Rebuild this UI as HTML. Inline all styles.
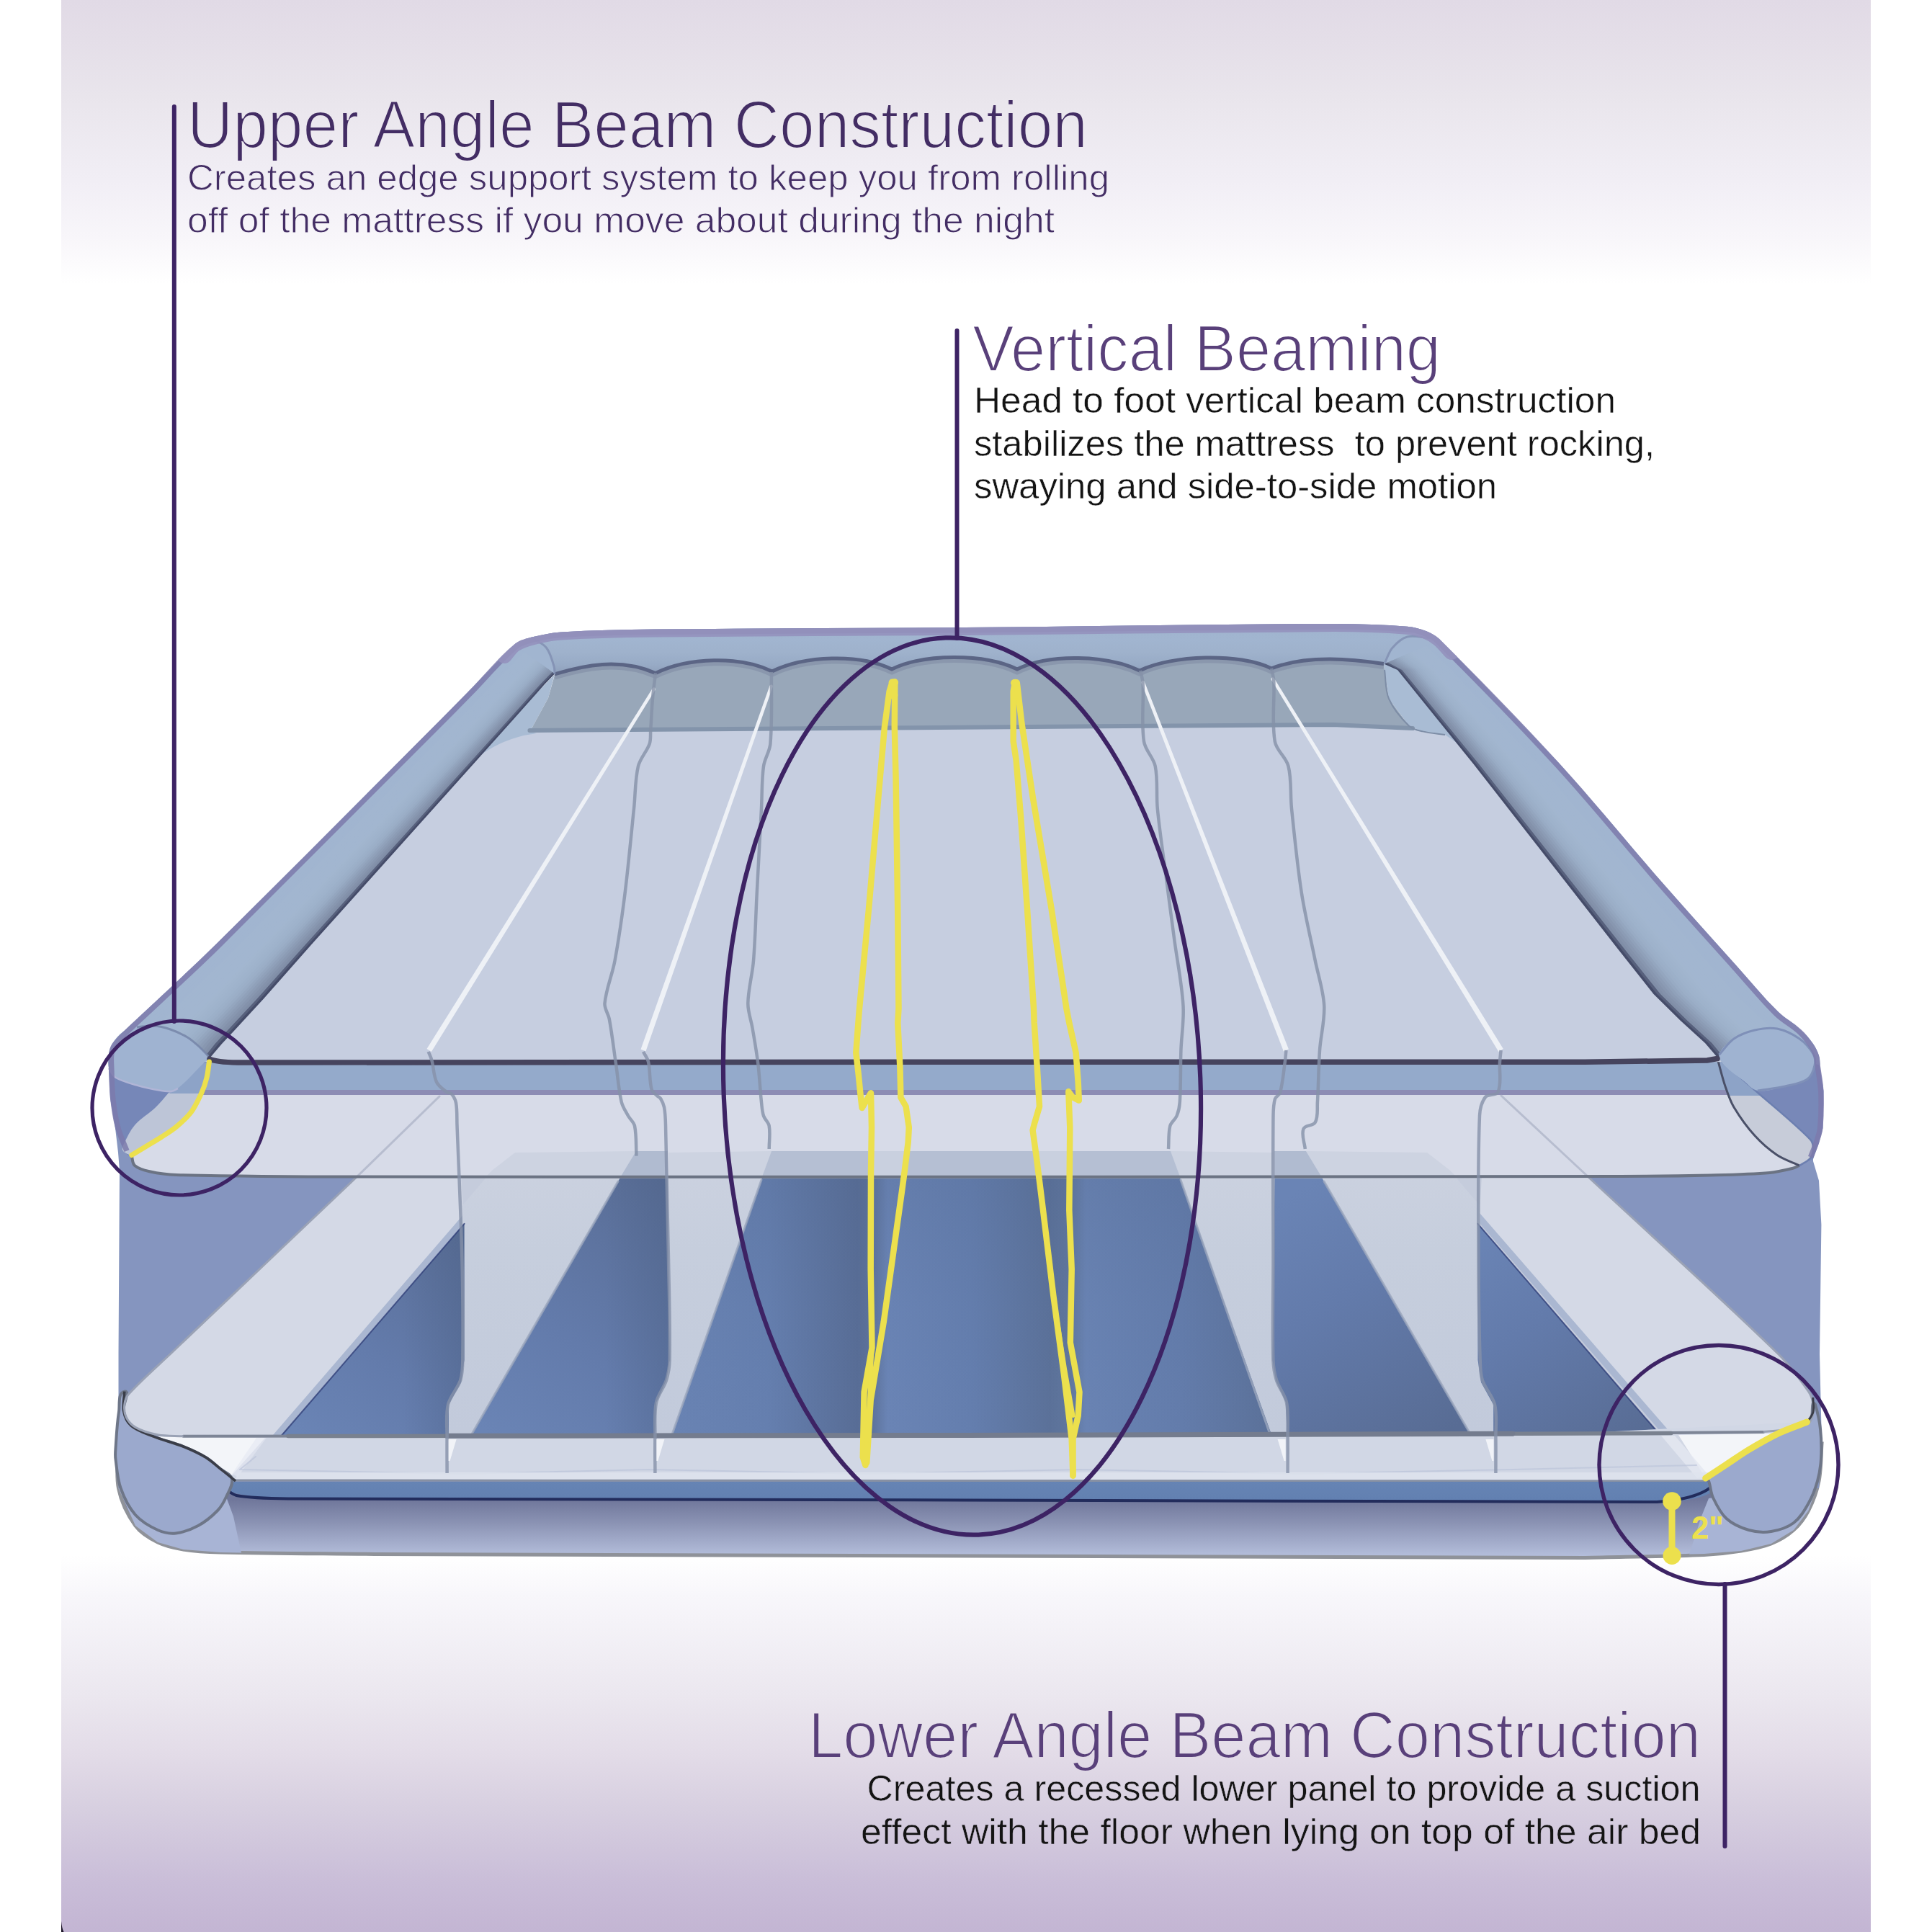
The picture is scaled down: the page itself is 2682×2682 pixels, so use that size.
<!DOCTYPE html>
<html lang="en"><head><meta charset="utf-8"><title>Air bed construction</title>
<style>
html,body{margin:0;padding:0;background:#fff;}
body{width:2682px;height:2682px;overflow:hidden;font-family:"Liberation Sans",sans-serif;}
svg{display:block;}
text{font-family:"Liberation Sans",sans-serif;}
</style></head><body>
<svg width="2682" height="2682" viewBox="0 0 2682 2682">
<defs>
<linearGradient id="bg" gradientUnits="userSpaceOnUse" x1="0" y1="0" x2="0" y2="2682"><stop offset="0" stop-color="#e1dae6"/><stop offset="0.02" stop-color="#e4dee8"/><stop offset="0.05" stop-color="#e9e5ec"/><stop offset="0.093" stop-color="#f1eef5"/><stop offset="0.123" stop-color="#f8f6fa"/><stop offset="0.147" stop-color="#ffffff"/><stop offset="0.805" stop-color="#ffffff"/><stop offset="0.825" stop-color="#f8f7fb"/><stop offset="0.878" stop-color="#ebe7ef"/><stop offset="0.907" stop-color="#e3dce8"/><stop offset="0.936" stop-color="#d7cfe0"/><stop offset="0.975" stop-color="#c9bdd8"/><stop offset="1" stop-color="#c3b5d3"/></linearGradient>
<linearGradient id="gsh" gradientUnits="userSpaceOnUse" x1="0" y1="2082" x2="0" y2="2160"><stop offset="0" stop-color="#70779b"/><stop offset="0.4" stop-color="#8a92b3"/><stop offset="1" stop-color="#b4bedb"/></linearGradient>
<linearGradient id="gface" gradientUnits="userSpaceOnUse" x1="0" y1="1598" x2="0" y2="1994"><stop offset="0" stop-color="#ccd2e0"/><stop offset="0.35" stop-color="#c6cedd"/><stop offset="1" stop-color="#c2cadb"/></linearGradient>
<linearGradient id="c1" gradientUnits="userSpaceOnUse" x1="420" y1="1994" x2="660" y2="1700"><stop offset="0" stop-color="#6a84b5"/><stop offset="0.4" stop-color="#637bab"/><stop offset="1" stop-color="#586c94"/></linearGradient>
<linearGradient id="c1b" gradientUnits="userSpaceOnUse" x1="560" y1="0" x2="646" y2="0"><stop offset="0" stop-color="#4d6288" stop-opacity="0"/><stop offset="1" stop-color="#4d6288" stop-opacity="0.42"/></linearGradient>
<linearGradient id="c2" gradientUnits="userSpaceOnUse" x1="680" y1="1994" x2="940" y2="1640"><stop offset="0" stop-color="#6a84b5"/><stop offset="0.4" stop-color="#637bab"/><stop offset="1" stop-color="#586c94"/></linearGradient>
<linearGradient id="c2b" gradientUnits="userSpaceOnUse" x1="840" y1="0" x2="931" y2="0"><stop offset="0" stop-color="#4d6288" stop-opacity="0"/><stop offset="1" stop-color="#4d6288" stop-opacity="0.42"/></linearGradient>
<linearGradient id="c4" gradientUnits="userSpaceOnUse" x1="1790" y1="1660" x2="2000" y2="1994"><stop offset="0" stop-color="#6a84b5"/><stop offset="0.4" stop-color="#637bab"/><stop offset="1" stop-color="#586c94"/></linearGradient>
<linearGradient id="c5" gradientUnits="userSpaceOnUse" x1="2075" y1="1700" x2="2280" y2="1994"><stop offset="0" stop-color="#6a84b5"/><stop offset="0.4" stop-color="#637bab"/><stop offset="1" stop-color="#586c94"/></linearGradient>
<linearGradient id="c3" gradientUnits="userSpaceOnUse" x1="932" y1="0" x2="1766" y2="0"><stop offset="0" stop-color="#6983b3"/><stop offset="0.16" stop-color="#657faf"/><stop offset="0.31" stop-color="#586d96"/><stop offset="0.335" stop-color="#5d739c"/><stop offset="0.36" stop-color="#6a84b5"/><stop offset="0.5" stop-color="#647eae"/><stop offset="0.63" stop-color="#5b7199"/><stop offset="0.665" stop-color="#60779e"/><stop offset="0.69" stop-color="#6983b3"/><stop offset="0.85" stop-color="#637cab"/><stop offset="1" stop-color="#5b7199"/></linearGradient>
<linearGradient id="c3v" gradientUnits="userSpaceOnUse" x1="0" y1="1638" x2="0" y2="1994"><stop offset="0" stop-color="#4d6288" stop-opacity="0.18"/><stop offset="0.5" stop-color="#4d6288" stop-opacity="0.04"/><stop offset="1" stop-color="#4d6288" stop-opacity="0"/></linearGradient>
<linearGradient id="gbs" gradientUnits="userSpaceOnUse" x1="0" y1="2056" x2="0" y2="2084"><stop offset="0" stop-color="#6684b4"/><stop offset="1" stop-color="#6280b1"/></linearGradient>
<linearGradient id="grail" gradientUnits="userSpaceOnUse" x1="0" y1="866" x2="0" y2="936"><stop offset="0" stop-color="#a0b3ce"/><stop offset="0.3" stop-color="#a1b5d0"/><stop offset="0.55" stop-color="#9fb2cc"/><stop offset="0.8" stop-color="#98abc6"/><stop offset="1" stop-color="#8e9fba"/></linearGradient>
<clipPath id="padclip"><path d="M172.5,1599 C168.3,1588 163,1577.4 160,1566 C156.5,1552.6 154.5,1538.8 153,1525 C151.5,1511.1 151.5,1497 151,1483 C150.8,1476.3 150.1,1469.6 151,1463 C151.7,1458.1 153,1453.1 155.7,1449 C159.9,1442.6 165.7,1437.3 171.2,1432 C187,1416.7 203.4,1402.1 219.4,1387 C246.3,1361.6 273.7,1336.6 300,1310.6 C404.1,1207.6 507.2,1103.6 610.6,1000 C623.8,986.8 636.9,973.4 650,960 C671.6,938 691.1,913.8 714.7,894 C721.8,888.1 731.6,886.3 740.6,884 C753.2,880.8 766,878.3 779,877.5 C822.3,874.8 865.7,874.1 909,873.6 C1052.7,871.9 1196.3,872.2 1340,871 C1510,869.6 1680,866.3 1850,866 C1884.5,865.9 1919.1,867.1 1953.5,869.8 C1962.4,870.5 1971.1,872.8 1979.4,876 C1985.9,878.5 1992.5,881.7 1997.5,886.6 C2054.6,943.2 2110.7,1000.7 2165,1060 C2213.9,1113.4 2259.3,1170 2307,1224.5 C2341.1,1263.5 2375.9,1301.8 2410.5,1340.4 C2429.8,1361.9 2448,1384.3 2468.5,1404.6 C2477.9,1413.9 2490.2,1420 2500,1429 C2506.5,1434.9 2512,1441.8 2517,1449 C2520.4,1453.9 2523.2,1459.3 2525,1465 C2526.5,1469.8 2526.3,1475 2527,1480 C2528.5,1491.5 2531,1502.9 2531.5,1514.5 C2532.2,1531.7 2532,1548.9 2530.5,1566 C2529.9,1573.2 2527.2,1580.1 2525,1587 C2522.7,1594 2519.7,1600.8 2517,1607.7 L2400,1607 L2300,1530 L1900,945 L790,950 L380,1530 L300,1600 Z"/></clipPath>
</defs>
<rect x="0" y="0" width="2682" height="2682" fill="#ffffff"/>
<rect x="85" y="0" width="2512" height="2682" fill="url(#bg)"/>
<path d="M85,2682 L85,2667 Q86,2677 88.5,2682 Z" fill="#1a1426"/>
<path d="M164.5,2000 C164.5,2022 160.2,2044.4 164.5,2066 C168.2,2084.7 176.8,2102.6 188,2118 C195.6,2128.4 207.5,2135.3 219,2141 C230,2146.5 242.4,2149 254.5,2151 C271.5,2153.7 288.8,2154.6 306,2155 C377.3,2156.7 448.7,2156.6 520,2157.4 L2200,2162.5 C2255.2,2161.1 2310.4,2160.8 2365.6,2158.4 C2382.8,2157.6 2400,2155.8 2417,2153 C2431.1,2150.7 2445.4,2148.3 2458.7,2143 C2470,2138.5 2480.9,2132.1 2490,2124 C2498.4,2116.5 2505.3,2107 2510.5,2097 C2517.1,2084.1 2522.2,2070.2 2525,2056 C2528.4,2038.9 2527.7,2021.3 2529,2004 Z" fill="url(#gsh)" stroke="#8f9299" stroke-width="5"/>
<polygon points="164.5,2066 188,2118 219,2141 254.5,2151 306,2155 335,2155.5 324,2105 314,2078" fill="#a8b4d5"/>
<polygon points="2525,2056 2510.5,2097 2490,2124 2458.7,2143 2417,2153 2365.6,2157 2345,2157.5 2362,2105 2372,2080" fill="#a8b4d5"/>
<polygon points="160,1566 164,1600 166,1625 164.5,1880 164.5,2066 2525,2066 2529,2004 2526,1880 2528.4,1700 2525,1639 2517,1612 2517,1600 2490,1600" fill="#8595bf"/>
<polygon points="610,1522 495.5,1633.5 236,1880 178,1936 172.8,1950 175,1967 188,1981.4 219,1991.8 254.5,1993.8 2200,1989 2448,1987.6 2479,1984.5 2508.4,1977 2515.7,1967 2516.7,1948 2510.5,1931.7 2469,1880 2204,1633 2084,1521" fill="#c5ccdc"/>
<polygon points="610,1522 495.5,1633.5 236,1880 178,1936 172.8,1950 175,1967 188,1981.4 219,1991.8 254.5,1993.8 377.4,1994 643,1686.4 640,1633.6 632,1531 626,1524" fill="#d4d9e6"/>
<polygon points="2084,1521 2204,1633 2469,1880 2510.5,1931.7 2516.7,1948 2515.7,1967 2508.4,1977 2479,1984.5 2448,1987.6 2320,1990 2054,1684 2057,1633 2064,1531 2070,1524" fill="#d4d9e6"/>
<polygon points="643,1686.4 377.4,1994 389.8,1994 644.5,1698.8" fill="#aab7d1"/>
<polygon points="2054,1684 2320,1990 2307.5,1990 2052.5,1696.5" fill="#aab7d1"/>
<polygon points="641.4,1674 684,1624 715,1600 883,1598 650,1994 620.6,1997 620.6,1950 639.2,1916 642.3,1888" fill="url(#gface)"/>
<polygon points="928,1600 1071,1598 932,1994 909.4,1994 909.4,1947 925,1916 929.6,1888" fill="url(#gface)"/>
<polygon points="2054.6,1674 2012,1624 1981,1600 1813,1598 2046,1994 2075.4,1997 2075.4,1950 2056.8,1916 2053.7,1888" fill="url(#gface)"/>
<polygon points="1768,1600 1625,1598 1764,1994 1786.6,1994 1786.6,1947 1771,1916 1766.4,1888" fill="url(#gface)"/>
<polygon points="644.5,1698.8 644.5,1888 640,1919 622.8,1950 622.8,1994 389.8,1994" fill="url(#c1)"/>
<polygon points="644.5,1698.8 644.5,1888 640,1919 622.8,1950 622.8,1994 389.8,1994" fill="url(#c1b)"/>
<polygon points="861.5,1634 926.5,1634 929.6,1888 925,1916 911,1947 909.4,1994 653,1994" fill="url(#c2)"/>
<polygon points="861.5,1634 926.5,1634 929.6,1888 925,1916 911,1947 909.4,1994 653,1994" fill="url(#c2b)"/>
<polygon points="1834.5,1634 1769.5,1634 1766.4,1888 1771,1916 1785,1947 1786.6,1994 2043,1994" fill="url(#c4)"/>
<polygon points="2051.5,1698.8 2051.5,1888 2056,1919 2073.2,1950 2073.2,1994 2306.2,1994" fill="url(#c5)"/>
<polygon points="1058.5,1634 1637.5,1634 1766,1994 932,1994" fill="url(#c3)"/>
<polygon points="1058.5,1634 1637.5,1634 1766,1994 932,1994" fill="url(#c3v)"/>
<polyline points="644.5,1698.8 389.8,1994" fill="none" stroke="#2f3f78" stroke-width="2" opacity="0.8" stroke-linejoin="round" stroke-linecap="round"/>
<polyline points="2051.5,1698.8 2306.2,1994" fill="none" stroke="#2f3f78" stroke-width="2" opacity="0.8" stroke-linejoin="round" stroke-linecap="round"/>
<polyline points="858,1640 653,1994" fill="none" stroke="#9ba6bd" stroke-width="3" opacity="0.8" stroke-linejoin="round" stroke-linecap="round"/>
<polyline points="1838,1640 2043,1994" fill="none" stroke="#9ba6bd" stroke-width="3" opacity="0.8" stroke-linejoin="round" stroke-linecap="round"/>
<polyline points="1057,1638 932,1994" fill="none" stroke="#9ba6bd" stroke-width="3" opacity="0.8" stroke-linejoin="round" stroke-linecap="round"/>
<polyline points="1639,1638 1764,1994" fill="none" stroke="#9ba6bd" stroke-width="3" opacity="0.8" stroke-linejoin="round" stroke-linecap="round"/>
<path d="M213,1994 C226.8,1998.7 240.9,2002.6 254.5,2008 C265.2,2012.3 275.7,2017.1 285.6,2023 C293,2027.5 299.2,2033.6 306,2039 C313,2044.6 320,2050.3 327,2056 L2367.7,2056 L2367.7,2052 C2377.3,2045.7 2387,2039.3 2396.6,2033 C2407,2026.2 2417,2018.9 2427.7,2012.5 C2441.2,2004.4 2454.8,1996.5 2469,1989.7 C2481.8,1983.6 2495.3,1979.2 2508.4,1974 L2200,1989 L254.5,1993.8 Z" fill="#d1d7e5"/>
<path d="M213,1994 C226.8,1998.7 240.9,2002.6 254.5,2008 C265.2,2012.3 275.7,2017.1 285.6,2023 C293,2027.5 299.2,2033.7 306,2039 L320,2050 L368,1996 Z" fill="#f3f5f9"/>
<path d="M2330,1992 L2469,1989.7 L2508.4,1974 C2495.3,1979.2 2481.8,1983.6 2469,1989.7 C2454.8,1996.5 2441.2,2004.4 2427.7,2012.5 C2417,2018.9 2407,2026.2 2396.6,2033 C2387,2039.3 2377.3,2045.7 2367.7,2052 Z" fill="#f3f5f9"/>
<polygon points="2306,1993 2325,1993 2372,2048 2356,2052" fill="#e4e8f1" opacity="0.85"/>
<polygon points="356,1996 370,1996 330,2050 322,2046" fill="#e4e8f1" opacity="0.6"/>
<polyline points="355,2022 333,2040 640,2046 900,2040 1200,2046 1500,2040 1800,2046 2100,2040 2355,2034" fill="none" stroke="#bcc4da" stroke-width="2" opacity="0.7" stroke-linejoin="round" stroke-linecap="round"/>
<polyline points="254.5,1993.8 1340,1992.5 2200,1990 2448,1988" fill="none" stroke="#7d8596" stroke-width="4" stroke-linejoin="round" stroke-linecap="round"/>
<polyline points="400,1993.6 1340,1992.5 2200,1990 2320,1989.5" fill="none" stroke="#79818f" stroke-width="5.5" stroke-linejoin="round" stroke-linecap="round"/>
<polyline points="620,1993.3 1340,1992.5 2100,1990.3" fill="none" stroke="#747c8e" stroke-width="7" stroke-linejoin="round" stroke-linecap="round"/>
<polygon points="330,2044 2375,2044 2367,2054 327,2054" fill="#dfe4ee" opacity="0.8"/>
<polyline points="327,2055 2367,2056" fill="none" stroke="#8790a3" stroke-width="3" stroke-linejoin="round" stroke-linecap="round"/>
<path d="M318,2057 L2370,2057 Q2388,2052 2386,2062 Q2378,2078 2330,2084 L2200,2085 L400,2080 Q330,2078 314,2068 Q310,2062 318,2057 Z" fill="url(#gbs)"/>
<path d="M313,2052 Q308,2068 328,2076 Q350,2080 400,2080.5 L1340,2082.5 L2300,2085 Q2370,2080 2384,2054" fill="none" stroke="#222c5c" stroke-width="4"/>
<path d="M172.8,1931.7 C181.6,1930 170,1949.9 171.7,1958.7 C173.1,1966.1 176.2,1974.1 182,1979 C190.7,1986.5 202.3,1989.7 213,1994 C226.6,1999.4 240.9,2002.6 254.5,2008 C265.2,2012.3 275.7,2017.1 285.6,2023 C293,2027.5 299.3,2033.5 306,2039 C311.5,2043.5 320.6,2046.1 322,2053 C323.8,2061.6 317.6,2070 314,2078 C310.9,2084.8 307.2,2091.6 302,2097 C294,2105.2 285,2112.6 275,2118 C265.4,2123.2 254.8,2127.2 244,2128.4 C235.6,2129.3 226.7,2127.5 219,2124 C207.6,2118.8 196.3,2112.3 188,2103 C178.7,2092.5 172.3,2079.3 167.6,2066 C163,2052.9 162.2,2038.8 160.4,2025 C159.8,2020.7 160.1,2016.3 160.4,2012 C161.6,1994.6 162.3,1977.2 165,1960 C166.5,1950.3 163.2,1933.6 172.8,1931.7Z" fill="#9ba9cd" stroke="#6e7688" stroke-width="4"/>
<path d="M2516.7,1948 C2517.1,1946.8 2519.6,1948.8 2520,1950 C2523.2,1961 2525.8,1972.2 2527,1983.5 C2528.5,1997.3 2528.8,2011.2 2528,2025 C2527.4,2035.5 2525.8,2045.9 2523,2056 C2520,2066.7 2516,2077.3 2510.5,2087 C2504.9,2096.8 2499,2107.2 2490,2114 C2481.1,2120.7 2469.7,2124.2 2458.7,2126 C2448.5,2127.6 2437.6,2126.9 2427.7,2124 C2416.5,2120.8 2405.2,2115.8 2396.6,2108 C2388.1,2100.3 2382.9,2089.4 2378,2079 C2374.6,2071.8 2374.8,2063.4 2372,2056 C2371.3,2054.1 2366.2,2053.2 2367.7,2051.8 C2376.1,2044 2387,2039.3 2396.6,2033 C2407,2026.2 2417,2018.9 2427.7,2012.5 C2441.2,2004.4 2454.8,1996.5 2469,1989.7 C2481.8,1983.6 2495.8,1980.5 2508.4,1974 C2511.5,1972.4 2513.9,1969.3 2515,1966 C2516.8,1960.3 2514.9,1953.8 2516.7,1948Z" fill="#9ba9cd" stroke="#6e7688" stroke-width="4"/>
<path d="M172.8,1931.7 C172.4,1940.7 170,1949.9 171.7,1958.7 C173.1,1966.1 176.2,1974.1 182,1979 C190.7,1986.5 202.3,1989.7 213,1994 C226.6,1999.4 240.9,2002.6 254.5,2008 C265.2,2012.3 275.7,2017.1 285.6,2023 C293,2027.5 299.2,2033.6 306,2039 C313,2044.6 320,2050.3 327,2056" fill="none" stroke="#3a3d48" stroke-width="3.5"/>
<path d="M495.5,1633.5 C409,1715.7 322.4,1797.7 236,1880 C216.5,1898.5 196,1916.1 178,1936 C174.7,1939.7 173.3,1945 172.8,1950 C172.2,1955.7 172.5,1961.9 175,1967 C177.8,1972.8 182.4,1978.2 188,1981.4 C197.5,1986.8 208.3,1989.8 219,1991.8 C230.7,1994 242.7,1993.1 254.5,1993.8" fill="none" stroke="#9aa2b5" stroke-width="3"/>
<path d="M2448,1987.6 C2458.3,1986.6 2468.8,1986.3 2479,1984.5 C2489,1982.8 2499.3,1981.4 2508.4,1977 C2512.1,1975.2 2514.6,1971 2515.7,1967 C2517.4,1960.9 2517.6,1954.3 2516.7,1948 C2515.9,1942.2 2513.8,1936.5 2510.5,1931.7 C2497.8,1913.6 2484.8,1895.4 2469,1880 C2382.5,1795.7 2292.3,1715.3 2204,1633" fill="none" stroke="#9aa2b5" stroke-width="3"/>
<path d="M2516.7,1940 C2516.8,1946.7 2518.5,1953.5 2517,1960 C2515.7,1965.6 2511.3,1970 2508.4,1975" fill="none" stroke="#3a3d48" stroke-width="3"/>
<path d="M290.4,1474 C289.3,1481.3 288.8,1488.8 287,1496 C285.3,1503 283,1510 280,1516.6 C275.8,1525.9 271.6,1535.3 265.6,1543.5 C259.8,1551.3 252.4,1557.8 245,1564 C238.5,1569.5 231.1,1573.9 224,1578.5 C217.3,1582.9 210.3,1586.8 203.5,1591 C196.6,1595.2 189.7,1599.3 182.8,1603.5 L182.8,1604.6 C184.2,1609.1 183.5,1614.9 187,1618 C192.6,1622.9 200.4,1624.7 207.6,1626.3 C219.9,1629 232.4,1630.7 245,1631 C330,1633.1 415,1633.5 500,1633.6 C1083.3,1634.2 1666.7,1633.7 2250,1633 C2291.3,1633 2332.7,1632.5 2374,1631.5 C2401.7,1630.8 2429.4,1630.3 2457,1628 C2467.5,1627.1 2477.8,1624.5 2488,1622 C2491.5,1621.1 2494.7,1619.3 2498,1618 L2498,1618 C2487.7,1613.2 2476.5,1609.8 2467,1603.5 C2455.6,1595.9 2445.2,1586.8 2436,1576.6 C2425,1564.5 2415.4,1551 2407,1537 C2401.6,1528 2398.4,1517.9 2395,1508 C2390.9,1495.9 2388,1483.3 2384.5,1471 Z" fill="#d7dbe8"/>
<polygon points="290.4,1474 287,1496 280,1519 2400,1519 2395,1508 2384.5,1471 2200,1474" fill="#94aacb"/>
<polyline points="281,1516.5 2399,1516.5" fill="none" stroke="#8c8cb4" stroke-width="7.2" stroke-linecap="butt" stroke-linejoin="round"/>
<polygon points="715,1600 883,1598 860,1636 672,1636 684,1624" fill="#cdd3e1"/>
<polygon points="1981,1600 1813,1598 1836,1636 2024,1636 2012,1624" fill="#cdd3e1"/>
<polygon points="928,1600 1071,1598 1057,1636 928,1636" fill="#cdd3e1"/>
<polygon points="1768,1600 1625,1598 1639,1636 1768,1636" fill="#cdd3e1"/>
<polygon points="883,1598 927,1598 927,1636 860,1636" fill="#b0bbd0"/>
<polygon points="1813,1598 1769,1598 1769,1636 1836,1636" fill="#b0bbd0"/>
<polygon points="1071,1598 1625,1598 1639,1636 1057,1636" fill="#b5bfd3"/>
<polygon points="1205,1598 1262,1598 1256,1636 1207,1636" fill="#c9d0df"/>
<polygon points="1441,1598 1487,1598 1487,1636 1443,1636" fill="#c9d0df"/>
<polyline points="610,1522 495.5,1633.5" fill="none" stroke="#a9b1c4" stroke-width="3" opacity="0.7" stroke-linejoin="round" stroke-linecap="round"/>
<polyline points="2084,1521 2204,1633" fill="none" stroke="#a9b1c4" stroke-width="3" opacity="0.7" stroke-linejoin="round" stroke-linecap="round"/>
<path d="M182.8,1604.6 C184.2,1609.1 183.5,1614.9 187,1618 C192.6,1622.9 200.4,1624.7 207.6,1626.3 C219.9,1629 232.4,1630.7 245,1631 C330,1633.1 415,1633.5 500,1633.6 C1083.3,1634.2 1666.7,1633.7 2250,1633 C2291.3,1633 2332.7,1632.5 2374,1631.5 C2401.7,1630.8 2429.4,1630.3 2457,1628 C2467.5,1627.1 2477.8,1624.5 2488,1622 C2491.5,1621.1 2494.7,1619.3 2498,1618" fill="none" stroke="#6b7383" stroke-width="4"/>
<path d="M290.4,1474 C289.3,1481.3 288.8,1488.8 287,1496 C285.3,1503 283,1510 280,1516.6 C275.8,1525.9 271.6,1535.3 265.6,1543.5 C259.8,1551.3 252.4,1557.8 245,1564 C238.5,1569.5 231.1,1573.9 224,1578.5 C217.3,1582.9 210.3,1586.8 203.5,1591 C196.6,1595.2 189.7,1599.3 182.8,1603.5 L177.6,1603.5 L172.5,1599 L160,1566 L153,1525 L151,1483 L151,1470 L291,1469 Z" fill="#7687b8"/>
<path d="M234.5,1516.6 C228.3,1523.5 222.7,1530.9 216,1537.3 C206.8,1546.1 195.4,1552.4 187,1562 C180.7,1569.2 176.6,1578.3 172.5,1587 C171,1590.1 168.7,1594.1 170.4,1597 C172.8,1601.2 178.7,1602.1 182.8,1604.6 L182.8,1603.5 C189.7,1599.3 196.6,1595.2 203.5,1591 C210.3,1586.8 217.3,1582.9 224,1578.5 C231.1,1573.9 238.5,1569.5 245,1564 C252.4,1557.8 259.8,1551.3 265.6,1543.5 C271.6,1535.3 275.2,1525.6 280,1516.6 Z" fill="#bdc5d7"/>
<polygon points="282,1476 245,1512.5 234.5,1518 280,1518 287,1496 290.4,1474" fill="#8da3c7"/>
<path d="M2384.5,1471 C2388,1483.3 2390.9,1495.9 2395,1508 C2398.4,1517.9 2401.6,1528 2407,1537 C2415.4,1551 2425,1564.5 2436,1576.6 C2445.2,1586.8 2455.6,1595.9 2467,1603.5 C2476.5,1609.8 2487.7,1613.2 2498,1618 L2517,1609 L2525,1587 L2530.5,1566 L2531.5,1514.5 L2526,1479 L2526,1468 L2385,1468 Z" fill="#7888b8"/>
<path d="M2398,1521 C2401,1526.3 2403.5,1531.9 2407,1537 C2416.2,1550.5 2425,1564.5 2436,1576.6 C2445.2,1586.8 2455.6,1595.9 2467,1603.5 C2476.5,1609.8 2487.7,1613.2 2498,1618 L2498.4,1618 C2503.3,1614.6 2509.2,1612.3 2513,1607.7 C2515.8,1604.3 2517,1599.6 2517,1595.3 C2517,1590.6 2516.3,1585.2 2513,1581.8 C2491.8,1560 2467.7,1541.3 2445,1521 Z" fill="#c7ccd9"/>
<polygon points="2384.5,1471 2395,1508 2399,1521 2446,1521 2388,1471" fill="#8da3c7"/>
<path d="M2384.5,1471 C2388,1483.3 2390.9,1495.9 2395,1508 C2398.4,1517.9 2401.6,1528 2407,1537 C2415.4,1551 2425,1564.5 2436,1576.6 C2445.2,1586.8 2455.6,1595.9 2467,1603.5 C2476.5,1609.8 2487.7,1613.2 2498,1618" fill="none" stroke="#4a5068" stroke-width="3"/>
<path d="M2387.7,1471 C2403.9,1485.2 2420.2,1499.2 2436.3,1513.5 C2461.9,1536.2 2489,1557.4 2513,1581.8 C2516.3,1585.1 2517,1590.6 2517,1595.3 C2517,1599.6 2515.8,1604.3 2513,1607.7 C2509.2,1612.3 2503.3,1614.6 2498.4,1618" fill="none" stroke="#6c7fb0" stroke-width="2.5"/>
<polygon points="270,1474 690,1000 735,1015 1226,1011 1850,1006 1961,1012 2020,1010 2400,1474 2200,1476 500,1476" fill="#c6cee0"/>
<path d="M770,936 L735,972 L662,1052 Q690,1030 727,1021 L745,1018 L735.4,1016 L761,969 Z" fill="#a9bcd4"/>
<polygon points="1921,921.5 1990,925 2060,1045 2024.5,1032.5 2006,1020 1975,1015.4 1956,1007.7 1928,970 1922,930" fill="#a9bcd4"/>
<path d="M770,935.8 C810,923.8 860,912.5 910,934.5 C955,912.5 1026.8,910 1071.8,932 C1116.8,910 1193,907 1238,929 C1283,907 1367,907 1412,929 C1457,907 1537,909 1582,931 C1627,909 1720,906 1765,928 C1815,908 1881,915.5 1921,921.5 L1922,930 L1928,970 L1956,1007.7 L1961,1012 L1850,1006 L1226,1011 L735.4,1016 L761,969 L770,937 Z" fill="#98a7b9"/>
<polyline points="735.4,1014 1226,1010.5 1850,1006 1961,1011" fill="none" stroke="#8394ab" stroke-width="6" stroke-linejoin="round" stroke-linecap="round"/>
<path d="M1922,930 C1924,943.3 1922.6,957.6 1928,970 C1934.3,984.3 1944.7,996.8 1956,1007.7 C1960.9,1012.4 1968.4,1013.8 1975,1015.4 C1985.1,1017.9 1995.7,1018.5 2006,1020" fill="none" stroke="#7d8da6" stroke-width="2"/>
<path d="M714.7,894 C723.3,890.7 731.6,886.3 740.6,884 C753.2,880.8 766,878.3 779,877.5 C822.3,874.8 865.7,874.1 909,873.6 C1052.7,871.9 1196.3,872.2 1340,871 C1510,869.6 1680,866.3 1850,866 C1884.5,865.9 1919.1,867.1 1953.5,869.8 C1962.4,870.5 1971.1,872.8 1979.4,876 C1985.9,878.5 1991.5,883.1 1997.5,886.6 L1960,905 L1921,921.5 C1881,915.5 1815,908 1765,928 C1720,906 1627,909 1582,931 C1537,909 1457,907 1412,929 C1367,907 1283,907 1238,929 C1193,907 1116.8,910 1071.8,932 C1026.8,910 955,912.5 910,934.5 C860,912.5 810,923.8 770,935.8 L740,910 Z" fill="url(#grail)"/>
<g transform="translate(0,4)">
<path d="M770,935.8 C810,923.8 860,912.5 910,934.5 C955,912.5 1026.8,910 1071.8,932 C1116.8,910 1193,907 1238,929 C1283,907 1367,907 1412,929 C1457,907 1537,909 1582,931 C1627,909 1720,906 1765,928 C1815,908 1881,915.5 1921,921.5" fill="none" stroke="#6f7c98" stroke-width="7" stroke-linejoin="round" opacity="0.35"/>
</g>
<path d="M770,935.8 C810,923.8 860,912.5 910,934.5 C955,912.5 1026.8,910 1071.8,932 C1116.8,910 1193,907 1238,929 C1283,907 1367,907 1412,929 C1457,907 1537,909 1582,931 C1627,909 1720,906 1765,928 C1815,908 1881,915.5 1921,921.5" fill="none" stroke="#5b6585" stroke-width="5" stroke-linejoin="round"/>
<g clip-path="url(#padclip)">
<polygon points="151,1475 155.7,1449 171.2,1432 219.4,1387 300,1310.6 610.6,1000 660,950 716,893 718.4,894.8 664.2,950 615,1000 305.8,1310.6 225.7,1387 177.8,1432 162.3,1449 157.1,1474.7" fill="#a1b5d0"/>
<polygon points="155.4,1474.8 160.5,1449 176,1432 224,1387 304.2,1310.6 613.8,1000 663,950 717.7,894.3 720.1,896.1 667.2,950 618.1,1000 309.9,1310.6 230.3,1387 182.6,1432 167,1449 161.4,1474.6" fill="#a1b5d0"/>
<polygon points="159.8,1474.6 165.2,1449 180.8,1432 228.5,1387 308.3,1310.6 616.9,1000 666,950 719.4,895.6 721.8,897.4 670.2,950 621.3,1000 314.1,1310.6 234.9,1387 187.4,1432 171.8,1449 165.8,1474.4" fill="#a1b5d0"/>
<polygon points="164.1,1474.4 170,1449 185.5,1432 233.1,1387 312.5,1310.6 620.1,1000 669,950 721.1,896.9 723.5,898.8 673.2,950 624.4,1000 318.2,1310.6 239.4,1387 192.1,1432 176.6,1449 170.2,1474.2" fill="#a1b5d0"/>
<polygon points="168.5,1474.2 174.7,1449 190.3,1432 237.7,1387 316.6,1310.6 623.2,1000 672,950 722.8,898.2 725.2,900.1 676.2,950 627.6,1000 322.4,1310.6 244,1387 196.9,1432 181.3,1449 174.6,1474" fill="#a1b5d0"/>
<polygon points="172.9,1474.1 179.5,1449 195.1,1432 242.2,1387 320.8,1310.6 626.4,1000 675,950 724.5,899.6 726.9,901.4 679.2,950 630.7,1000 326.5,1310.6 248.5,1387 201.7,1432 186.1,1449 178.9,1473.8" fill="#a1b5d0"/>
<polygon points="177.2,1473.9 184.3,1449 199.8,1432 246.8,1387 324.9,1310.6 629.5,1000 678,950 726.2,900.9 728.6,902.7 682.2,950 633.9,1000 330.7,1310.6 253.1,1387 206.5,1432 190.8,1449 183.3,1473.6" fill="#a1b5d0"/>
<polygon points="181.6,1473.7 189,1449 204.6,1432 251.4,1387 329.1,1310.6 632.7,1000 681,950 727.9,902.2 730.3,904 685.2,950 637,1000 334.8,1310.6 257.7,1387 211.2,1432 195.6,1449 187.7,1473.4" fill="#a1b5d0"/>
<polygon points="186,1473.5 193.8,1449 209.4,1432 255.9,1387 333.2,1310.6 635.8,1000 684,950 729.6,903.5 732,905.3 688.2,950 640.2,1000 339,1310.6 262.2,1387 216,1432 200.4,1449 192.1,1473.2" fill="#a2b6d0"/>
<polygon points="190.4,1473.3 198.5,1449 214.2,1432 260.5,1387 337.4,1310.6 639,1000 687,950 731.3,904.8 733.7,906.6 691.2,950 643.3,1000 343.2,1310.6 266.8,1387 220.8,1432 205.1,1449 196.4,1473.1" fill="#a2b6d0"/>
<polygon points="194.8,1473.1 203.3,1449 218.9,1432 265.1,1387 341.6,1310.6 642.1,1000 690,950 733,906.1 735.4,907.9 694.2,950 646.5,1000 347.3,1310.6 271.4,1387 225.6,1432 209.9,1449 200.8,1472.9" fill="#a2b6d0"/>
<polygon points="199.1,1472.9 208.1,1449 223.7,1432 269.6,1387 345.7,1310.6 645.3,1000 693,950 734.7,907.4 737.1,909.3 697.2,950 649.6,1000 351.5,1310.6 275.9,1387 230.3,1432 214.6,1449 205.2,1472.7" fill="#a2b6d0"/>
<polygon points="203.5,1472.8 212.8,1449 228.5,1432 274.2,1387 349.9,1310.6 648.4,1000 696,950 736.4,908.8 738.8,910.6 700.2,950 652.8,1000 355.6,1310.6 280.5,1387 235.1,1432 219.4,1449 209.6,1472.5" fill="#a2b6d0"/>
<polygon points="207.9,1472.6 217.6,1449 233.3,1432 278.8,1387 354,1310.6 651.6,1000 699,950 738.1,910.1 740.5,911.9 703.2,950 656,1000 359.8,1310.6 285.1,1387 239.9,1432 224.2,1449 213.9,1472.3" fill="#a2b6d0"/>
<polygon points="212.2,1472.4 222.3,1449 238.1,1432 283.3,1387 358.2,1310.6 654.7,1000 702,950 739.8,911.4 742.2,913.2 706.2,950 659.1,1000 363.9,1310.6 289.6,1387 244.7,1432 228.9,1449 218.3,1472.1" fill="#a2b6d0"/>
<polygon points="216.6,1472.2 227.1,1449 242.8,1432 287.9,1387 362.3,1310.6 657.9,1000 705,950 741.5,912.7 743.9,914.5 709.2,950 662.3,1000 368.1,1310.6 294.2,1387 249.4,1432 233.7,1449 222.7,1471.9" fill="#a2b6d0"/>
<polygon points="221,1472 231.8,1449 247.6,1432 292.4,1387 366.5,1310.6 661,1000 708,950 743.2,914 745.6,915.8 712.2,950 665.4,1000 372.3,1310.6 298.8,1387 254.2,1432 238.4,1449 227.1,1471.7" fill="#a2b6cf"/>
<polygon points="225.4,1471.8 236.6,1449 252.4,1432 297,1387 370.7,1310.6 664.2,1000 711,950 745,915.3 747.3,917.1 715.2,950 668.6,1000 376.4,1310.6 303.3,1387 259,1432 243.2,1449 231.4,1471.6" fill="#a1b5ce"/>
<polygon points="229.8,1471.6 241.4,1449 257.1,1432 301.6,1387 374.8,1310.6 667.4,1000 714,950 746.7,916.6 749,918.4 718.2,950 671.7,1000 380.6,1310.6 307.9,1387 263.8,1432 248,1449 235.8,1471.4" fill="#a0b4cd"/>
<polygon points="234.1,1471.4 246.1,1449 261.9,1432 306.1,1387 379,1310.6 670.5,1000 717,950 748.4,917.9 750.7,919.8 721.2,950 674.9,1000 384.7,1310.6 312.5,1387 268.5,1432 252.7,1449 240.2,1471.2" fill="#9fb3cc"/>
<polygon points="238.5,1471.2 250.9,1449 266.7,1432 310.7,1387 383.1,1310.6 673.7,1000 720,950 750.1,919.2 752.4,921.1 724.2,950 678,1000 388.9,1310.6 317,1387 273.3,1432 257.5,1449 244.6,1471" fill="#9eb2cb"/>
<polygon points="242.9,1471.1 255.6,1449 271.5,1432 315.3,1387 387.3,1310.6 676.8,1000 723,950 751.8,920.6 754.1,922.4 727.2,950 681.2,1000 393,1310.6 321.6,1387 278.1,1432 262.2,1449 248.9,1470.8" fill="#9cb0c9"/>
<polygon points="247.2,1470.9 260.4,1449 276.2,1432 319.8,1387 391.4,1310.6 680,1000 726,950 753.5,921.9 755.8,923.7 730.2,950 684.3,1000 397.2,1310.6 326.2,1387 282.9,1432 267,1449 253.3,1470.6" fill="#9baec7"/>
<polygon points="251.6,1470.7 265.2,1449 281,1432 324.4,1387 395.6,1310.6 683.1,1000 729,950 755.2,923.2 757.5,925 733.2,950 687.5,1000 401.3,1310.6 330.7,1387 287.6,1432 271.8,1449 257.7,1470.4" fill="#98abc4"/>
<polygon points="256,1470.5 269.9,1449 285.8,1432 329,1387 399.8,1310.6 686.3,1000 732,950 756.9,924.5 759.2,926.3 736.2,950 690.6,1000 405.5,1310.6 335.3,1387 292.4,1432 276.5,1449 262.1,1470.2" fill="#94a6bf"/>
<polygon points="260.4,1470.3 274.7,1449 290.6,1432 333.5,1387 403.9,1310.6 689.4,1000 735,950 758.6,925.8 760.9,927.6 739.2,950 693.8,1000 409.7,1310.6 339.9,1387 297.2,1432 281.3,1449 266.4,1470.1" fill="#90a1ba"/>
<polygon points="264.8,1470.1 279.4,1449 295.4,1432 338.1,1387 408.1,1310.6 692.6,1000 738,950 760.3,927.1 762.6,928.9 742.2,950 696.9,1000 413.8,1310.6 344.4,1387 302,1432 286,1449 270.8,1469.9" fill="#8c9cb5"/>
<polygon points="269.1,1469.9 284.2,1449 300.1,1432 342.7,1387 412.2,1310.6 695.7,1000 741,950 762,928.4 764.3,930.3 745.2,950 700.1,1000 418,1310.6 349,1387 306.7,1432 290.8,1449 275.2,1469.7" fill="#8897b0"/>
<polygon points="273.5,1469.8 289,1449 304.9,1432 347.2,1387 416.4,1310.6 698.9,1000 744,950 763.7,929.8 766,931.6 748.2,950 703.3,1000 422.1,1310.6 353.6,1387 311.5,1432 295.5,1449 279.6,1469.5" fill="#8492ab"/>
<polygon points="277.9,1469.6 293.7,1449 309.7,1432 351.8,1387 420.5,1310.6 702,1000 747,950 765.4,931.1 767.7,932.9 751.2,950 706.4,1000 426.3,1310.6 358.1,1387 316.3,1432 300.3,1449 283.9,1469.3" fill="#808ea7"/>
<polygon points="282.2,1469.4 298.5,1449 314.4,1432 356.4,1387 424.7,1310.6 705.2,1000 750,950 767.1,932.4 769.5,934.2 754.2,950 709.6,1000 430.4,1310.6 362.7,1387 321.1,1432 305.1,1449 288.3,1469.1" fill="#57607c"/>
<polygon points="286.6,1469.2 303.2,1449 319.2,1432 360.9,1387 428.8,1310.6 708.3,1000 753,950 768.8,933.7 770.5,935 756,950 711.5,1000 433,1310.6 365.5,1387 324,1432 308,1449 291,1469" fill="#454c69"/>
<polygon points="714,895 740.6,882 758.7,899.5 769,925 770.5,935.5" fill="#a1b5d0"/>
<polygon points="2530,1478 2519,1448 2486,1417 2447,1380 2393,1320 2165,1060 2040,930 1997.5,886.6 1994.2,888.1 2035.7,930 2159.8,1060 2386.7,1320 2440.4,1380 2479.4,1417 2512.4,1448 2523.7,1477.6" fill="#a1b5d0"/>
<polygon points="2525.5,1477.7 2514.2,1448 2481.2,1417 2442.3,1380 2388.5,1320 2161.2,1060 2036.9,930 1995.1,887.7 1991.8,889.2 2032.5,930 2156.1,1060 2382.2,1320 2435.7,1380 2474.6,1417 2507.7,1448 2519.2,1477.3" fill="#a1b5d0"/>
<polygon points="2520.9,1477.4 2509.5,1448 2476.4,1417 2437.5,1380 2383.9,1320 2157.5,1060 2033.8,930 1992.7,888.8 1989.4,890.3 2029.4,930 2152.3,1060 2377.7,1320 2431,1380 2469.8,1417 2502.9,1448 2514.7,1477" fill="#a1b5d0"/>
<polygon points="2516.4,1477.2 2504.8,1448 2471.7,1417 2432.8,1380 2379.4,1320 2153.8,1060 2030.6,930 1990.3,889.9 1987,891.4 2026.3,930 2148.6,1060 2373.1,1320 2426.2,1380 2465,1417 2498.2,1448 2510.1,1476.8" fill="#a1b5d0"/>
<polygon points="2511.9,1476.9 2500,1448 2466.9,1417 2428.1,1380 2374.9,1320 2150,1060 2027.5,930 1987.9,891 1984.6,892.5 2023.2,930 2144.8,1060 2368.6,1320 2421.5,1380 2460.3,1417 2493.4,1448 2505.6,1476.5" fill="#a1b5d0"/>
<polygon points="2507.3,1476.6 2495.2,1448 2462.1,1417 2423.3,1380 2370.3,1320 2146.2,1060 2024.4,930 1985.5,892.1 1982.2,893.6 2020,930 2141.1,1060 2364.1,1320 2416.8,1380 2455.5,1417 2488.7,1448 2501.1,1476.2" fill="#a1b5d0"/>
<polygon points="2502.8,1476.3 2490.5,1448 2457.3,1417 2418.6,1380 2365.8,1320 2142.5,1060 2021.2,930 1983.2,893.1 1979.8,894.7 2016.9,930 2137.3,1060 2359.5,1320 2412,1380 2450.7,1417 2483.9,1448 2496.5,1475.9" fill="#a1b5d0"/>
<polygon points="2498.3,1476 2485.8,1448 2452.5,1417 2413.9,1380 2361.3,1320 2138.8,1060 2018.1,930 1980.8,894.2 1977.5,895.7 2013.8,930 2133.6,1060 2355,1320 2407.3,1380 2445.9,1417 2479.2,1448 2492,1475.6" fill="#a1b5d0"/>
<polygon points="2493.8,1475.8 2481,1448 2447.8,1417 2409.1,1380 2356.8,1320 2135,1060 2015,930 1978.4,895.3 1975.1,896.8 2010.7,930 2129.8,1060 2350.5,1320 2402.6,1380 2441.1,1417 2474.4,1448 2487.5,1475.4" fill="#a2b6d0"/>
<polygon points="2489.2,1475.5 2476.2,1448 2443,1417 2404.4,1380 2352.2,1320 2131.2,1060 2011.9,930 1976,896.4 1972.7,897.9 2007.5,930 2126.1,1060 2345.9,1320 2397.8,1380 2436.4,1417 2469.7,1448 2482.9,1475.1" fill="#a2b6d0"/>
<polygon points="2484.7,1475.2 2471.5,1448 2438.2,1417 2399.7,1380 2347.7,1320 2127.5,1060 2008.8,930 1973.6,897.5 1970.3,899 2004.4,930 2122.3,1060 2341.4,1320 2393.1,1380 2431.6,1417 2464.9,1448 2478.4,1474.8" fill="#a2b6d0"/>
<polygon points="2480.2,1474.9 2466.8,1448 2433.4,1417 2394.9,1380 2343.2,1320 2123.8,1060 2005.6,930 1971.2,898.6 1967.9,900.1 2001.3,930 2118.6,1060 2336.9,1320 2388.4,1380 2426.8,1417 2460.2,1448 2473.9,1474.5" fill="#a2b6d0"/>
<polygon points="2475.6,1474.6 2462,1448 2428.6,1417 2390.2,1380 2338.6,1320 2120,1060 2002.5,930 1968.8,899.7 1965.5,901.2 1998.2,930 2114.8,1060 2332.4,1320 2383.6,1380 2422,1417 2455.4,1448 2469.4,1474.2" fill="#a2b6d0"/>
<polygon points="2471.1,1474.3 2457.2,1448 2423.8,1417 2385.5,1380 2334.1,1320 2116.2,1060 1999.4,930 1966.4,900.8 1963.1,902.3 1995,930 2111.1,1060 2327.8,1320 2378.9,1380 2417.2,1417 2450.7,1448 2464.8,1474" fill="#a2b6d0"/>
<polygon points="2466.6,1474.1 2452.5,1448 2419.1,1417 2380.7,1380 2329.6,1320 2112.5,1060 1996.2,930 1964,901.9 1960.7,903.4 1991.9,930 2107.3,1060 2323.3,1320 2374.2,1380 2412.4,1417 2445.9,1448 2460.3,1473.7" fill="#a2b6d0"/>
<polygon points="2462,1473.8 2447.8,1448 2414.3,1417 2376,1380 2325,1320 2108.8,1060 1993.1,930 1961.6,903 1958.3,904.5 1988.8,930 2103.6,1060 2318.8,1320 2369.4,1380 2407.7,1417 2441.2,1448 2455.8,1473.4" fill="#a2b6d0"/>
<polygon points="2457.5,1473.5 2443,1448 2409.5,1417 2371.2,1380 2320.5,1320 2105,1060 1990,930 1959.2,904 1955.9,905.6 1985.7,930 2099.8,1060 2314.2,1320 2364.7,1380 2402.9,1417 2436.4,1448 2451.2,1473.1" fill="#a2b6cf"/>
<polygon points="2453,1473.2 2438.2,1448 2404.7,1417 2366.5,1380 2316,1320 2101.2,1060 1986.9,930 1956.9,905.1 1953.6,906.7 1982.5,930 2096.1,1060 2309.7,1320 2360,1380 2398.1,1417 2431.7,1448 2446.7,1472.8" fill="#a1b5ce"/>
<polygon points="2448.4,1472.9 2433.5,1448 2399.9,1417 2361.8,1380 2311.4,1320 2097.5,1060 1983.8,930 1954.5,906.2 1951.2,907.7 1979.4,930 2092.3,1060 2305.2,1320 2355.2,1380 2393.3,1417 2426.9,1448 2442.2,1472.5" fill="#a0b4cd"/>
<polygon points="2443.9,1472.7 2428.8,1448 2395.2,1417 2357,1380 2306.9,1320 2093.8,1060 1980.6,930 1952.1,907.3 1948.8,908.8 1976.3,930 2088.6,1060 2300.6,1320 2350.5,1380 2388.5,1417 2422.2,1448 2437.6,1472.3" fill="#9fb3cc"/>
<polygon points="2439.4,1472.4 2424,1448 2390.4,1417 2352.3,1380 2302.4,1320 2090,1060 1977.5,930 1949.7,908.4 1946.4,909.9 1973.2,930 2084.8,1060 2296.1,1320 2345.8,1380 2383.8,1417 2417.4,1448 2433.1,1472" fill="#9eb2cb"/>
<polygon points="2434.8,1472.1 2419.2,1448 2385.6,1417 2347.6,1380 2297.8,1320 2086.2,1060 1974.4,930 1947.3,909.5 1944,911 1970,930 2081.1,1060 2291.6,1320 2341,1380 2379,1417 2412.7,1448 2428.6,1471.7" fill="#9cb0c9"/>
<polygon points="2430.3,1471.8 2414.5,1448 2380.8,1417 2342.8,1380 2293.3,1320 2082.5,1060 1971.2,930 1944.9,910.6 1941.6,912.1 1966.9,930 2077.3,1060 2287,1320 2336.3,1380 2374.2,1417 2407.9,1448 2424,1471.4" fill="#9baec7"/>
<polygon points="2425.8,1471.5 2409.8,1448 2376,1417 2338.1,1380 2288.8,1320 2078.8,1060 1968.1,930 1942.5,911.7 1939.2,913.2 1963.8,930 2073.6,1060 2282.5,1320 2331.6,1380 2369.4,1417 2403.2,1448 2419.5,1471.1" fill="#98abc4"/>
<polygon points="2421.2,1471.2 2405,1448 2371.2,1417 2333.4,1380 2284.2,1320 2075,1060 1965,930 1940.1,912.8 1936.8,914.3 1960.7,930 2069.8,1060 2278,1320 2326.8,1380 2364.6,1417 2398.4,1448 2415,1470.9" fill="#94a6bf"/>
<polygon points="2416.7,1471 2400.2,1448 2366.5,1417 2328.6,1380 2279.7,1320 2071.2,1060 1961.9,930 1937.7,913.9 1934.4,915.4 1957.5,930 2066.1,1060 2273.4,1320 2322.1,1380 2359.9,1417 2393.7,1448 2410.4,1470.6" fill="#90a1ba"/>
<polygon points="2412.2,1470.7 2395.5,1448 2361.7,1417 2323.9,1380 2275.2,1320 2067.5,1060 1958.8,930 1935.3,915 1932,916.5 1954.4,930 2062.3,1060 2268.9,1320 2317.4,1380 2355.1,1417 2388.9,1448 2405.9,1470.3" fill="#8c9cb5"/>
<polygon points="2407.7,1470.4 2390.8,1448 2356.9,1417 2319.2,1380 2270.7,1320 2063.8,1060 1955.6,930 1933,916 1929.6,917.6 1951.3,930 2058.6,1060 2264.4,1320 2312.6,1380 2350.3,1417 2384.2,1448 2401.4,1470" fill="#8897b0"/>
<polygon points="2403.1,1470.1 2386,1448 2352.1,1417 2314.4,1380 2266.1,1320 2060,1060 1952.5,930 1930.6,917.1 1927.3,918.6 1948.2,930 2054.8,1060 2259.9,1320 2307.9,1380 2345.5,1417 2379.4,1448 2396.9,1469.7" fill="#8492ab"/>
<polygon points="2398.6,1469.8 2381.2,1448 2347.3,1417 2309.7,1380 2261.6,1320 2056.2,1060 1949.4,930 1928.2,918.2 1924.9,919.7 1945,930 2051.1,1060 2255.3,1320 2303.2,1380 2340.7,1417 2374.7,1448 2392.3,1469.5" fill="#808ea7"/>
<polygon points="2394.1,1469.6 2376.5,1448 2342.6,1417 2305,1380 2257.1,1320 2052.5,1060 1946.2,930 1925.8,919.3 1922.5,920.8 1941.9,930 2047.3,1060 2250.8,1320 2298.4,1380 2335.9,1417 2369.9,1448 2387.8,1469.2" fill="#57607c"/>
<polygon points="2389.5,1469.3 2371.8,1448 2337.8,1417 2300.2,1380 2252.5,1320 2048.8,1060 1943.1,930 1923.4,920.4 1921,921.5 1940,930 2045,1060 2248,1320 2295.5,1380 2333,1417 2367,1448 2385,1469" fill="#454c69"/>
<polygon points="1999,888 1979.4,874 1953.5,880 1932.8,899.5 1920.5,922" fill="#a1b5d0"/>
</g>
<path d="M740.6,886.6 C746.6,890.9 754.3,893.5 758.7,899.5 C764.2,906.9 766.3,916.2 769,925 C770.1,928.5 769.7,932.2 770,935.8" fill="none" stroke="#7f8db0" stroke-width="3" opacity="0.8"/>
<path d="M1985,886 C1974.5,885.3 1963.7,881.4 1953.5,884 C1945.2,886.2 1938.4,893 1932.8,899.5 C1927.8,905.3 1925.9,913.2 1922.5,920" fill="none" stroke="#7f8db0" stroke-width="3" opacity="0.8"/>
<path d="M151,1483 C149.2,1476.6 150.1,1469.6 151,1463 C151.7,1458.1 153,1453.1 155.7,1449 C159.9,1442.6 164.8,1436.3 171.2,1432 C176.7,1428.3 183.5,1427.2 190,1426 C197.6,1424.6 205.3,1423.5 213,1424 C221,1424.5 228.9,1426.4 236.5,1429 C244.6,1431.7 252.4,1435.4 259.8,1439.8 C265.5,1443.2 270.4,1447.6 275.3,1452 C279.7,1455.9 283.7,1460.2 287.7,1464.6 C288.9,1465.9 291.5,1467.4 290.8,1469 C289.5,1472.1 285.4,1473.1 283,1475.5 C272.5,1485.7 263,1496.9 252,1506.5 C247.9,1510.1 243.3,1513.8 238,1515 C232.5,1516.3 226.6,1514.5 221,1513.5 C210.5,1511.7 200.1,1509.5 189.9,1506.5 C179.9,1503.5 169.4,1501.1 160.4,1495.7 C155.9,1493 152.5,1488.1 151,1483Z" fill="#9fb3d1"/>
<path d="M190,1426 C197.7,1425.3 205.3,1423.5 213,1424 C221,1424.5 228.9,1426.4 236.5,1429 C244.6,1431.7 252.4,1435.4 259.8,1439.8 C265.5,1443.2 270.4,1447.6 275.3,1452 C279.7,1455.9 283.7,1460.2 287.7,1464.6 C288.9,1465.9 289.8,1467.5 290.8,1469" fill="none" stroke="#7585a8" stroke-width="3" opacity="0.85"/>
<path d="M151,1483 C154.1,1487.2 155.9,1493 160.4,1495.7 C169.4,1501.1 179.9,1503.5 189.9,1506.5 C200.1,1509.5 210.5,1511.7 221,1513.5 C226.6,1514.5 232.3,1515.5 238,1515 C241.3,1514.7 244,1512.3 247,1511" fill="none" stroke="#b0b5d6" stroke-width="2.5"/>
<path d="M2386.6,1464 C2389.6,1454.5 2398.8,1447.7 2407,1442 C2415.6,1436.1 2425.8,1432.4 2436,1430 C2446.1,1427.6 2456.8,1426 2467,1428 C2478.1,1430.2 2488.7,1435.5 2498,1442 C2505.7,1447.4 2512.3,1454.8 2517,1463 C2519.7,1467.7 2520.2,1473.8 2519,1479 C2517.4,1486 2514.8,1493.9 2509,1498 C2500.1,1504.3 2488.6,1505.5 2478,1508 C2465.5,1510.9 2452.7,1515.8 2440,1514 C2431.9,1512.9 2426.5,1504.9 2420,1500 C2411.5,1493.6 2402.3,1487.8 2395,1480 C2390.9,1475.6 2384.8,1469.7 2386.6,1464Z" fill="#9fb3d1"/>
<path d="M2386.6,1464 C2393.4,1456.7 2398.8,1447.7 2407,1442 C2415.6,1436.1 2425.8,1432.4 2436,1430 C2446.1,1427.6 2456.8,1426 2467,1428 C2478.1,1430.2 2488.7,1435.5 2498,1442 C2505.7,1447.4 2512.3,1454.8 2517,1463 C2519.7,1467.7 2520.2,1473.8 2519,1479 C2517.4,1486 2514.8,1493.9 2509,1498 C2500.1,1504.3 2488.6,1505.5 2478,1508 C2465.5,1510.9 2452.7,1512 2440,1514" fill="none" stroke="#7f90b8" stroke-width="3"/>
<g clip-path="url(#padclip)">
<path d="M172.5,1599 C168.3,1588 163,1577.4 160,1566 C156.5,1552.6 154.5,1538.8 153,1525 C151.5,1511.1 151.5,1497 151,1483 C150.8,1476.3 150.1,1469.6 151,1463 C151.7,1458.1 153,1453.1 155.7,1449 C159.9,1442.6 165.7,1437.3 171.2,1432 C187,1416.7 203.4,1402.1 219.4,1387 C246.3,1361.6 273.7,1336.6 300,1310.6 C404.1,1207.6 507.2,1103.6 610.6,1000 C623.8,986.8 636.9,973.4 650,960 C671.6,938 691.1,913.8 714.7,894 C721.8,888.1 731.6,886.3 740.6,884 C753.2,880.8 766,878.3 779,877.5 C822.3,874.8 865.7,874.1 909,873.6 C1052.7,871.9 1196.3,872.2 1340,871 C1510,869.6 1680,866.3 1850,866 C1884.5,865.9 1919.1,867.1 1953.5,869.8 C1962.4,870.5 1971.1,872.8 1979.4,876 C1985.9,878.5 1992.5,881.7 1997.5,886.6 C2054.6,943.2 2110.7,1000.7 2165,1060 C2213.9,1113.4 2259.3,1170 2307,1224.5 C2341.1,1263.5 2375.9,1301.8 2410.5,1340.4 C2429.8,1361.9 2448,1384.3 2468.5,1404.6 C2477.9,1413.9 2490.2,1420 2500,1429 C2506.5,1434.9 2512,1441.8 2517,1449 C2520.4,1453.9 2523.2,1459.3 2525,1465 C2526.5,1469.8 2526.3,1475 2527,1480 C2528.5,1491.5 2531,1502.9 2531.5,1514.5 C2532.2,1531.7 2532,1548.9 2530.5,1566 C2529.9,1573.2 2527.2,1580.1 2525,1587 C2522.7,1594 2519.7,1600.8 2517,1607.7" fill="none" stroke="#7c7aac" stroke-width="15" opacity="0.85"/>
<path d="M700,910 C704.9,904.7 708.6,897.9 714.7,894 C722.5,889 731.6,886.3 740.6,884 C753.2,880.8 766,878.3 779,877.5 C822.3,874.8 865.7,874.1 909,873.6 C1052.7,871.9 1196.3,872.2 1340,871 C1510,869.6 1680,866.3 1850,866 C1884.5,865.9 1919.1,867.1 1953.5,869.8 C1962.4,870.5 1971.1,872.8 1979.4,876 C1985.9,878.5 1992.1,882.2 1997.5,886.6 C2004.1,891.9 2009.2,898.9 2015,905" fill="none" stroke="#9391bd" stroke-width="22" stroke-linecap="round" opacity="0.9"/>
</g>
<path d="M291,1470 Q300,1474.5 330,1475 L1340,1474.3 L2200,1474.3 L2370,1472 L2384,1469.5" fill="none" stroke="#46445e" stroke-width="7.5" stroke-linecap="round"/>
<polygon points="906,955.2 592.5,1456 598.9,1460 909.8,957.6" fill="#eef1f6"/>
<circle cx="907.9" cy="956.4" r="2.2" fill="#eef1f6"/>
<polygon points="1068.5,951.9 889.5,1456.8 896.5,1459.2 1072.7,953.3" fill="#eef1f6"/>
<circle cx="1070.6" cy="952.6" r="2.2" fill="#eef1f6"/>
<polygon points="1584.5,947.8 1781.9,1459.4 1788.9,1456.6 1588.7,946.2" fill="#eef1f6"/>
<circle cx="1586.6" cy="947" r="2.2" fill="#eef1f6"/>
<polygon points="1764.8,943.6 2080.4,1460 2086.8,1456 1768.6,941.2" fill="#eef1f6"/>
<circle cx="1766.7" cy="942.4" r="2.2" fill="#eef1f6"/>
<path d="M910,934.5 C908.7,946 907,957.5 906,969 C904.7,983.9 904.2,998.9 903.2,1013.9 C902.8,1020.1 903.7,1026.6 901.7,1032.5 C897.9,1043.5 888.7,1052.3 886,1063.6 C881.4,1082.8 882.1,1102.9 880,1122.6 C875.9,1161.9 872.4,1201.4 867.5,1240.6 C863.6,1271.8 859.2,1302.9 853.5,1333.8 C849.8,1353.7 841.4,1372.7 839.5,1392.8 C838.8,1400.3 844.4,1407.1 845.8,1414.5 C849.6,1435.1 851.9,1456 855,1476.7 C857.6,1494.5 858.7,1512.5 862.8,1530 C864.4,1536.8 868.6,1542.8 872,1549 C874.7,1553.9 879.9,1557.6 881,1563 C883.8,1576.6 882.7,1590.7 883.5,1604.6" fill="none" stroke="#8491a8" stroke-width="4.5" opacity="0.8" stroke-linejoin="round"/>
<path d="M1071,933 C1070.5,966.2 1072.2,999.4 1069.4,1032.5 C1068.5,1043.3 1061.5,1052.9 1060,1063.6 C1057.3,1083.1 1058,1102.9 1057,1122.6 C1054.9,1161.9 1052.7,1201.3 1050.7,1240.6 C1049.1,1271.7 1048.5,1302.8 1046,1333.8 C1044.4,1353.6 1038.6,1373 1038.3,1392.8 C1038.1,1404.4 1042.6,1415.6 1044.5,1427 C1047.3,1443.5 1050.3,1460.1 1052.3,1476.7 C1054.4,1494.4 1055.1,1512.3 1057,1530 C1057.7,1536.4 1058,1542.9 1060,1549 C1061.6,1554.1 1066.8,1557.7 1067.7,1563 C1069.5,1573.5 1067.7,1584.3 1067.7,1595" fill="none" stroke="#8491a8" stroke-width="4.5" opacity="0.8" stroke-linejoin="round"/>
<path d="M1583,931 C1584.2,936.9 1586.3,942.6 1586.6,948.6 C1588,975.5 1584,1002.8 1588,1029.4 C1589.8,1041.8 1601.2,1051.3 1603.7,1063.6 C1607.6,1082.9 1604.9,1103 1606.8,1122.6 C1609.6,1151.7 1614,1180.5 1617.7,1209.5 C1621.7,1240.6 1625.9,1271.6 1630,1302.7 C1634.1,1333.8 1640.6,1364.7 1642.5,1396 C1643.8,1416.7 1640.1,1437.3 1639.4,1458 C1638.6,1482 1639.3,1506 1637.8,1530 C1637.4,1536.5 1636.1,1543 1633.6,1549 C1631.5,1554.2 1625.7,1557.6 1624.3,1563 C1621.7,1573.4 1622.8,1584.3 1622,1595" fill="none" stroke="#8491a8" stroke-width="4.5" opacity="0.8" stroke-linejoin="round"/>
<path d="M1765,928 C1766.1,933.8 1768,939.6 1768.3,945.5 C1769.6,973.4 1765.1,1001.8 1769.8,1029.4 C1772,1042.2 1785.4,1051 1788.5,1063.6 C1793.3,1082.7 1790.9,1103 1793,1122.6 C1797.1,1162 1800.9,1201.5 1807,1240.6 C1811.9,1271.9 1819.6,1302.7 1825.8,1333.8 C1830,1354.5 1837.1,1374.9 1838.2,1396 C1839.2,1416.7 1833.4,1437.3 1832,1458 C1830.3,1482 1830.4,1506 1828.9,1530 C1828.3,1539.4 1830.2,1549.7 1825.8,1558 C1822.9,1563.5 1811.7,1561.2 1809.5,1567 C1806.2,1575.8 1811,1585.7 1811.8,1595" fill="none" stroke="#8491a8" stroke-width="4.5" opacity="0.8" stroke-linejoin="round"/>
<path d="M594.7,1460 C596.3,1464 598.3,1467.9 599.4,1472 C602.1,1481.9 601.7,1492.7 606,1502 C608.8,1508 614.8,1511.9 620,1516 C621.9,1517.5 625.2,1516.8 626.8,1518.6 C629.8,1522.1 632.2,1526.4 633,1531 C634.8,1541.2 634.1,1551.7 634.5,1562 C636.9,1624.2 639.9,1686.3 641.4,1748.5 C642.5,1795 642.9,1841.5 642.3,1888 C642.2,1897.4 642.1,1907.1 639.2,1916 C635.2,1928.1 624.8,1937.6 622,1950 C618.5,1965.3 620.8,1981.3 620.6,1997 C620.4,2013 620.6,2029 620.6,2045" fill="none" stroke="#8691a9" stroke-width="4.5" opacity="0.8" stroke-linejoin="round"/>
<path d="M893,1460 C895.3,1464.7 898.9,1468.9 900,1474 C902.8,1486.5 901.3,1499.6 904.5,1512 C905.5,1515.8 909.3,1518.2 912,1521 C913.5,1522.5 915.9,1523.2 917,1525 C919.3,1528.7 921.2,1532.7 922,1537 C923.6,1545.2 923.8,1553.6 924,1562 C925.8,1624 926.9,1686 928,1748 C928.8,1794.7 930.4,1841.3 929.6,1888 C929.4,1897.5 927.8,1907 925,1916 C921.6,1926.8 913.2,1935.9 911,1947 C907.9,1962.4 909.7,1978.3 909.4,1994 C909.1,2011 909.4,2028 909.4,2045" fill="none" stroke="#8691a9" stroke-width="4.5" opacity="0.8" stroke-linejoin="round"/>
<path d="M1785.4,1458 C1784.9,1463.3 1784.6,1468.7 1783.8,1474 C1781.8,1488.4 1780.8,1503 1777,1517 C1776.1,1520.5 1771,1521.9 1770,1525.4 C1767.8,1532.9 1767.6,1540.9 1767.5,1548.7 C1766.8,1615.8 1767.5,1682.9 1767.5,1750 C1767.5,1796 1766.2,1842 1767.4,1888 C1767.7,1897.5 1769.2,1907 1772,1916 C1775.4,1926.8 1783.8,1935.9 1786,1947 C1789.1,1962.4 1787.3,1978.3 1787.6,1994 C1787.9,2011 1787.6,2028 1787.6,2045" fill="none" stroke="#8691a9" stroke-width="4.5" opacity="0.8" stroke-linejoin="round"/>
<path d="M2083.6,1458 C2083.1,1463.3 2082.4,1468.7 2082,1474 C2081,1488 2084.9,1503 2079.6,1516 C2077.2,1521.8 2065.9,1518 2062,1523 C2056.5,1530.1 2054.4,1539.7 2054,1548.7 C2051.2,1615.7 2052.4,1682.9 2052.5,1750 C2052.6,1796 2053.2,1842 2054.7,1888 C2055,1897.4 2054.9,1907.1 2057.8,1916 C2061.8,1928.1 2072.2,1937.6 2075,1950 C2078.5,1965.3 2076.2,1981.3 2076.4,1997 C2076.6,2013 2076.4,2029 2076.4,2045" fill="none" stroke="#8691a9" stroke-width="4.5" opacity="0.8" stroke-linejoin="round"/>
<polygon points="622.6,1998 633.6,1998 624.6,2028 622.6,2028" fill="#f4f6fa" opacity="0.9"/>
<polygon points="2073.4,1998 2062.4,1998 2071.4,2028 2073.4,2028" fill="#f4f6fa" opacity="0.9"/>
<polygon points="911.4,1998 922.4,1998 913.4,2028 911.4,2028" fill="#f4f6fa" opacity="0.9"/>
<polygon points="1784.6,1998 1773.6,1998 1782.6,2028 1784.6,2028" fill="#f4f6fa" opacity="0.9"/>
<polyline points="1238.6,946.9 1234.6,960 1228,1008.7 1221.6,1081 1206,1262 1193,1400 1191.4,1420 1188.3,1461.4 1191.4,1488.3 1194.5,1519.4 1196.6,1538 1209,1517.3 1210,1565 1209,1627 1208.7,1762 1210.5,1871 1199.6,1932.6 1197.8,2023 1201.4,2034" fill="none" stroke="#ece04d" stroke-width="8.5" stroke-linejoin="round" stroke-linecap="round"/>
<polyline points="1242.3,946.6 1241.8,1008.7 1243.6,1081 1246.2,1262 1247.5,1400 1246.3,1420 1249.4,1482 1250.4,1523.5 1257.6,1536 1261.8,1565 1260.7,1585.6 1255.6,1627 1252,1653.6 1226.8,1834.8 1208.7,1943.5 1203.3,2030.4" fill="none" stroke="#ece04d" stroke-width="8.5" stroke-linejoin="round" stroke-linecap="round"/>
<polyline points="1210.5,1871 1207,1943.5 1203,2000" fill="none" stroke="#ece04d" stroke-width="6" stroke-linejoin="round" stroke-linecap="round"/>
<polyline points="1238.6,947.5 1242,947.5" fill="none" stroke="#ece04d" stroke-width="10" stroke-linejoin="round" stroke-linecap="round"/>
<polyline points="1237,965 1241.5,965" fill="none" stroke="#ece04d" stroke-width="10" stroke-linejoin="round" stroke-linecap="round"/>
<polyline points="1409,947 1406.7,960 1406.7,1029.4 1410.6,1055 1417,1133 1426,1262 1435,1400 1435.7,1420 1439.8,1482 1443,1536 1435.7,1560.8 1433.6,1569 1438.8,1606.3 1444,1647.7 1448,1680 1462.3,1798.5 1476.8,1907 1487.7,1997.8 1489.5,2048.5" fill="none" stroke="#ece04d" stroke-width="8.5" stroke-linejoin="round" stroke-linecap="round"/>
<polyline points="1411.9,949 1418.3,1003.5 1433.8,1107 1459.7,1262 1480.4,1400 1484.3,1420 1493.6,1461.4 1496.7,1502.8 1497.8,1527.6 1489.5,1523.5 1483.3,1515.2 1485.3,1565 1484.3,1680 1487.7,1762 1485.8,1863.7 1498.5,1932.6 1496.7,1965 1489.5,1997.8 1489.5,2048.5" fill="none" stroke="#ece04d" stroke-width="8.5" stroke-linejoin="round" stroke-linecap="round"/>
<polyline points="1462.3,1798.5 1478,1900 1489.5,1965" fill="none" stroke="#ece04d" stroke-width="6" stroke-linejoin="round" stroke-linecap="round"/>
<polyline points="1408,948 1411,948" fill="none" stroke="#ece04d" stroke-width="10" stroke-linejoin="round" stroke-linecap="round"/>
<polyline points="1407.5,965 1412,965" fill="none" stroke="#ece04d" stroke-width="9" stroke-linejoin="round" stroke-linecap="round"/>
<path d="M290.4,1474 C289.3,1481.3 288.8,1488.8 287,1496 C285.3,1503 283,1510 280,1516.6 C275.8,1525.9 271.6,1535.3 265.6,1543.5 C259.8,1551.3 252.4,1557.8 245,1564 C238.5,1569.5 231.1,1573.9 224,1578.5 C217.3,1582.9 210.3,1586.8 203.5,1591 C196.6,1595.2 189.7,1599.3 182.8,1603.5" fill="none" stroke="#ece04d" stroke-width="7" stroke-linecap="round"/>
<path d="M2367.7,2052 C2377.3,2045.7 2387,2039.3 2396.6,2033 C2407,2026.2 2417,2018.9 2427.7,2012.5 C2441.2,2004.4 2454.8,1996.5 2469,1989.7 C2481.8,1983.6 2495.3,1979.2 2508.4,1974" fill="none" stroke="#ece04d" stroke-width="9" stroke-linecap="round"/>
<polyline points="2321,2084 2321,2159" fill="none" stroke="#ece04d" stroke-width="9" stroke-linejoin="round" stroke-linecap="round"/>
<circle cx="2321" cy="2084" r="12.8" fill="#ece04d"/><circle cx="2321" cy="2159.5" r="12.5" fill="#ece04d"/>
<text x="2348" y="2135.6" font-size="45" font-weight="700" fill="#ece04d" textLength="45" lengthAdjust="spacingAndGlyphs">2&quot;</text>
<g fill="none" stroke="#3d2364" stroke-width="6" stroke-linecap="round">
<line x1="241.8" y1="148" x2="241.8" y2="1418"/>
<circle cx="249" cy="1538" r="121" stroke-width="5.2"/>
<line x1="1328.5" y1="459" x2="1328.5" y2="886"/>
<ellipse cx="1335.5" cy="1508" rx="331" ry="623" stroke-width="6.2" transform="rotate(-2.1 1335.5 1508)"/>
<circle cx="2386" cy="2033.5" r="166" stroke-width="5.4"/>
<line x1="2394.5" y1="2199" x2="2394.5" y2="2563"/>
</g>
<text x="260" y="205" font-size="92" fill="#432d64" stroke="url(#bg)" stroke-width="2.2" textLength="1250" lengthAdjust="spacingAndGlyphs" text-anchor="start" xml:space="preserve">Upper Angle Beam Construction</text>
<text x="260" y="264" font-size="50" fill="#432d64" stroke="url(#bg)" stroke-width="1" textLength="1280" lengthAdjust="spacingAndGlyphs" text-anchor="start" xml:space="preserve">Creates an edge support system to keep you from rolling</text>
<text x="260" y="323" font-size="50" fill="#432d64" stroke="url(#bg)" stroke-width="1" textLength="1204" lengthAdjust="spacingAndGlyphs" text-anchor="start" xml:space="preserve">off of the mattress if you move about during the night</text>
<text x="1350" y="514.5" font-size="90" fill="#59407a" stroke="url(#bg)" stroke-width="2.2" textLength="650" lengthAdjust="spacingAndGlyphs" text-anchor="start" xml:space="preserve">Vertical Beaming</text>
<text x="1352" y="573" font-size="50.5" fill="#141414" stroke="url(#bg)" stroke-width="0.5" textLength="891" lengthAdjust="spacingAndGlyphs" text-anchor="start" xml:space="preserve">Head to foot vertical beam construction</text>
<text x="1352" y="632.5" font-size="50.5" fill="#141414" stroke="url(#bg)" stroke-width="0.5" textLength="945" lengthAdjust="spacingAndGlyphs" text-anchor="start" xml:space="preserve">stabilizes the mattress  to prevent rocking,</text>
<text x="1352" y="692" font-size="50.5" fill="#141414" stroke="url(#bg)" stroke-width="0.5" textLength="726" lengthAdjust="spacingAndGlyphs" text-anchor="start" xml:space="preserve">swaying and side-to-side motion</text>
<text x="1122" y="2439.5" font-size="90" fill="#59407a" stroke="url(#bg)" stroke-width="2.2" textLength="1239" lengthAdjust="spacingAndGlyphs" text-anchor="start" xml:space="preserve">Lower Angle Beam Construction</text>
<text x="1203.5" y="2500" font-size="50.5" fill="#141414" stroke="url(#bg)" stroke-width="0.5" textLength="1157" lengthAdjust="spacingAndGlyphs" text-anchor="start" xml:space="preserve">Creates a recessed lower panel to provide a suction</text>
<text x="1195" y="2559.6" font-size="50.5" fill="#141414" stroke="url(#bg)" stroke-width="0.5" textLength="1166" lengthAdjust="spacingAndGlyphs" text-anchor="start" xml:space="preserve">effect with the floor when lying on top of the air bed</text>
</svg>
</body></html>
